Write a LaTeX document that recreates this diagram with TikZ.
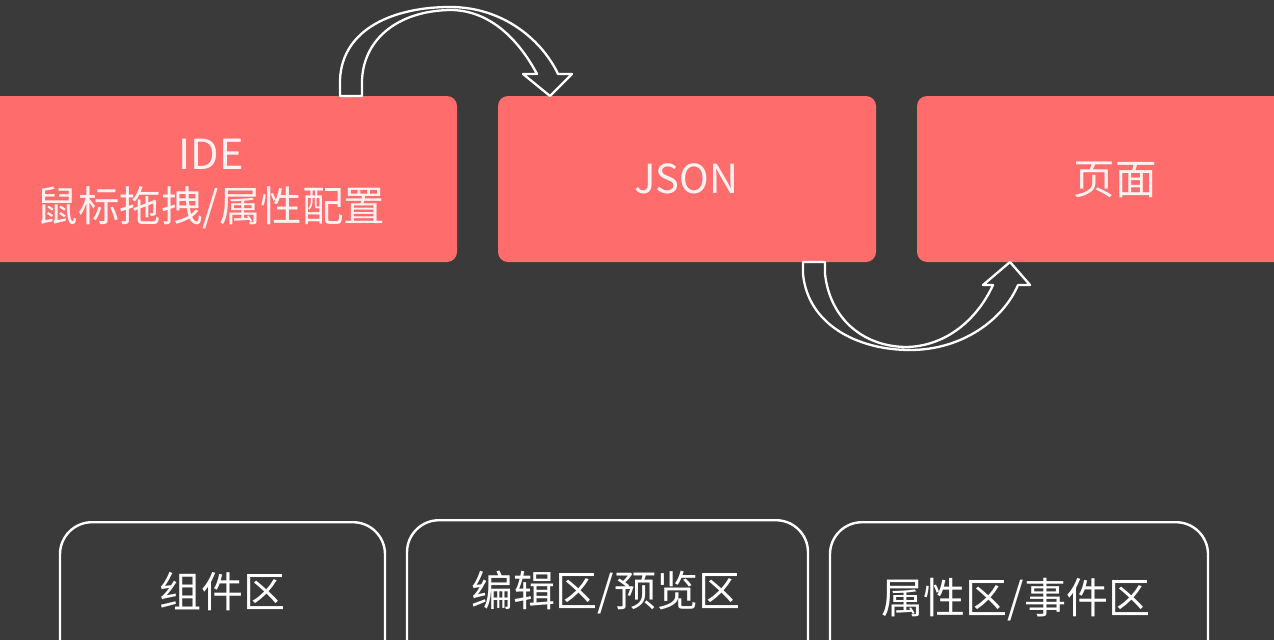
\documentclass[tikz,border=0pt]{standalone}
\usepackage{fontspec}
\newfontfamily\cjk{Noto Sans CJK SC}
\definecolor{bg}{HTML}{3A3A3A}
\definecolor{salmon}{HTML}{FF6C6C}
\definecolor{paletxt}{HTML}{FFF2F2}
\tikzset{
  flowbox/.style={fill=salmon, draw=none, rounded corners=10pt, minimum height=166pt, inner sep=0pt},
  flowtext/.style={text=paletxt, font=\cjk\fontsize{41.5}{52}\selectfont, align=center},
  zone/.style={draw=white, line width=2.4pt, rounded corners=32pt, minimum height=200pt, inner sep=0pt, anchor=north},
  zonetext/.style={text=white, font=\cjk\fontsize{42}{48}\selectfont},
  hollowarrow/.style={draw=white, line width=2.3pt, line join=round}
}
\begin{document}
\begin{tikzpicture}[x=1pt,y=-1pt]
\fill[bg] (0,0) rectangle (1274,640);
\useasboundingbox (0,0) rectangle (1274,640);
\clip (0,0) rectangle (1274,640);
% top flow boxes
\node[flowbox, minimum width=494pt] (ide) at (210,179) {};
\node[flowbox, minimum width=378pt] (json) at (687,179) {};
\node[flowbox, minimum width=396pt] (page) at (1115,179) {};
\node[flowtext] (idetxt) at (211,184) {IDE\\鼠标拖拽/属性配置};
\node[flowtext, font=\cjk\fontsize{40}{48}\selectfont] (jsontxt) at (686,179) {JSON};
\node[flowtext] (pagetxt) at (1115,180) {页面};
% hollow curved arrow IDE -> JSON
\draw[hollowarrow] (340,96) -- (340,80)
  .. controls (342,28) and (395,7) .. (450,7)
  .. controls (505,7) and (543,42) .. (558,74)
  -- (572,74) -- (550,96) -- (523,74) -- (537,74)
  .. controls (520,42) and (492,11) .. (452,10)
  .. controls (402,10) and (364,36) .. (362,80)
  -- (362,96) -- cycle;
% hollow curved arrow JSON -> page
\draw[hollowarrow] (803,262) -- (803,274)
  .. controls (808,325) and (858,350) .. (910,350)
  .. controls (962,350) and (1003,320) .. (1018,285)
  -- (1030,285) -- (1010,262) -- (983,285) -- (993,285)
  .. controls (977,320) and (945,347) .. (905,347)
  .. controls (862,346) and (830,318) .. (825,274)
  -- (825,262) -- cycle;
% bottom zones
\node[zone, minimum width=325pt] (zoneA) at (222.5,521) {};
\node[zone, minimum width=401pt] (zoneB) at (607.5,519) {};
\node[zone, minimum width=378pt] (zoneC) at (1019,521) {};
\node[zonetext] (zoneAtxt) at (222,592) {组件区};
\node[zonetext] (zoneBtxt) at (606,592) {编辑区/预览区};
\node[zonetext] (zoneCtxt) at (1016,600) {属性区/事件区};
\end{tikzpicture}
\end{document}
